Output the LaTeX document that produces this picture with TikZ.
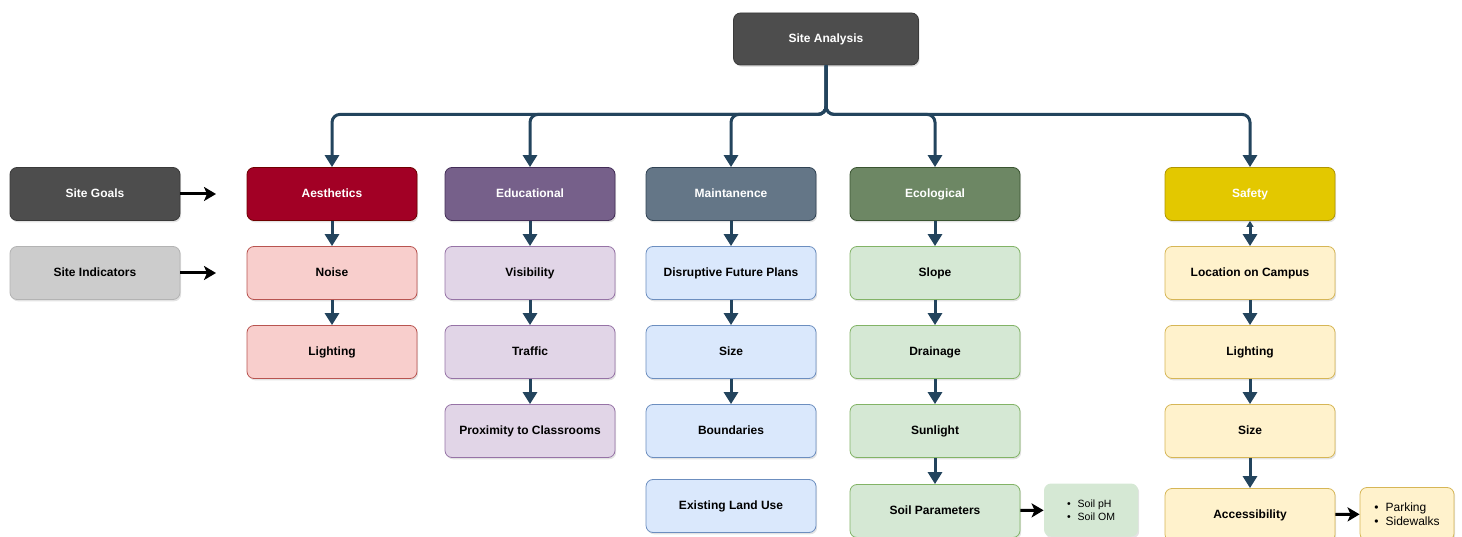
\documentclass[tikz,border=0pt]{standalone}
\usepackage{fontspec}
\setmainfont{Liberation Sans}
\usetikzlibrary{arrows.meta,shadows}

\definecolor{flowblue}{HTML}{23445D}
\definecolor{darkfill}{HTML}{4D4D4D}
\definecolor{darkline}{HTML}{3A3A3A}
\definecolor{greyfill}{HTML}{CCCCCC}
\definecolor{greyline}{HTML}{B3B3B3}
\definecolor{redfill}{HTML}{A20025}
\definecolor{redline}{HTML}{6F0000}
\definecolor{pinkfill}{HTML}{F8CECC}
\definecolor{pinkline}{HTML}{B85450}
\definecolor{violetfill}{HTML}{76608A}
\definecolor{violetline}{HTML}{432D57}
\definecolor{lilacfill}{HTML}{E1D5E7}
\definecolor{lilacline}{HTML}{9673A6}
\definecolor{slatefill}{HTML}{647687}
\definecolor{slateline}{HTML}{314354}
\definecolor{skyfill}{HTML}{DAE8FC}
\definecolor{skyline}{HTML}{6C8EBF}
\definecolor{olivefill}{HTML}{6D8764}
\definecolor{oliveline}{HTML}{3A5431}
\definecolor{mintfill}{HTML}{D5E8D4}
\definecolor{mintline}{HTML}{82B366}
\definecolor{goldfill}{HTML}{E3C800}
\definecolor{goldline}{HTML}{B09500}
\definecolor{creamfill}{HTML}{FFF2CC}
\definecolor{creamline}{HTML}{D6B656}

\begin{document}
\begin{tikzpicture}
[x=1pt, y=-1pt, font=\fontsize{12}{14}\selectfont\bfseries,
shade/.style={rectangle, rounded corners=7pt, line width=0.8pt, inner sep=2pt,
  drop shadow={shadow xshift=1.2pt, shadow yshift=-1.8pt, opacity=0.22}},
box/.style={shade, minimum width=170pt, minimum height=53pt,
  text height=9pt, text depth=2.6pt},
head/.style 2 args={box, fill=#1, draw=#2, text=white},
item/.style 2 args={box, fill=#1, draw=#2, text=black},
note/.style={shade, minimum width=94pt, minimum height=53pt, align=left},
tree/.style={draw=flowblue, line width=3pt, rounded corners=8pt,
  -{Triangle[width=14pt, length=12pt]}},
flow/.style={draw=flowblue, line width=3pt, -{Triangle[width=14pt, length=12pt]}},
side/.style={draw=black, line width=3pt, -{Stealth[width=14pt, length=12pt, inset=3pt]}}]

\useasboundingbox (0,0) rectangle (1462,537);

% top
\node[head={darkfill}{darkline}, minimum width=185pt, minimum height=52pt] (site) at (826,39) {Site Analysis};

% legend
\node[head={darkfill}{darkline}] (goals) at (95,194) {Site Goals};
\node[item={greyfill}{greyline}] (indic) at (95,273) {Site Indicators};
\coordinate (goalsend) at (216,194);
\coordinate (indicend) at (216,273);

% aesthetics
\node[head={redfill}{redline}] (aes) at (332,194) {Aesthetics};
\node[item={pinkfill}{pinkline}] (noise) at (332,273) {Noise};
\node[item={pinkfill}{pinkline}] (alight) at (332,352) {Lighting};

% educational
\node[head={violetfill}{violetline}] (edu) at (530,194) {Educational};
\node[item={lilacfill}{lilacline}] (vis) at (530,273) {Visibility};
\node[item={lilacfill}{lilacline}] (traffic) at (530,352) {Traffic};
\node[item={lilacfill}{lilacline}] (prox) at (530,431) {Proximity to Classrooms};

% maintanence
\node[head={slatefill}{slateline}] (maint) at (731,194) {Maintanence};
\node[item={skyfill}{skyline}] (plans) at (731,273) {Disruptive Future Plans};
\node[item={skyfill}{skyline}] (msize) at (731,352) {Size};
\node[item={skyfill}{skyline}] (bound) at (731,431) {Boundaries};
\node[item={skyfill}{skyline}] (landuse) at (731,506) {Existing Land Use};

% ecological
\node[head={olivefill}{oliveline}] (eco) at (935,194) {Ecological};
\node[item={mintfill}{mintline}] (slope) at (935,273) {Slope};
\node[item={mintfill}{mintline}] (drain) at (935,352) {Drainage};
\node[item={mintfill}{mintline}] (sun) at (935,431) {Sunlight};
\node[item={mintfill}{mintline}] (soil) at (935,511) {Soil Parameters};
\node[note, fill=mintfill, font=\fontsize{10.5}{13}\selectfont] (soilnote) at (1091,510)
  {\textbullet\hspace{7pt}Soil pH\\\textbullet\hspace{7pt}Soil OM};

% safety
\node[head={goldfill}{goldline}] (safe) at (1250,194) {Safety};
\node[item={creamfill}{creamline}] (campus) at (1250,273) {Location on Campus};
\node[item={creamfill}{creamline}] (slight) at (1250,352) {Lighting};
\node[item={creamfill}{creamline}] (ssize) at (1250,431) {Size};
\node[item={creamfill}{creamline}] (access) at (1250,515) {Accessibility};
\node[note, fill=creamfill, draw=creamline, font=\fontsize{12}{14}\selectfont] (parknote) at (1407,514)
  {\textbullet\hspace{7pt}Parking\\\textbullet\hspace{7pt}Sidewalks};

% tree
\foreach \c in {aes,edu,maint,eco,safe}
  \draw[tree] (site.south) -- ++(0,49) -| (\c.north);

% columns
\foreach \a/\b in {aes/noise, noise/alight, edu/vis, vis/traffic, traffic/prox,
  maint/plans, plans/msize, msize/bound, eco/slope, slope/drain, drain/sun, sun/soil,
  campus/slight, slight/ssize, ssize/access}
  \draw[flow] (\a) -- (\b);
\draw[flow, {Triangle[width=7pt, length=6pt]}-{Triangle[width=14pt, length=12pt]}] (safe) -- (campus);

% side arrows
\draw[side] (goals) -- (goalsend);
\draw[side] (indic) -- (indicend);
\draw[side] (soil) -- (soilnote);
\draw[side] (access) -- (parknote);
\end{tikzpicture}
\end{document}
